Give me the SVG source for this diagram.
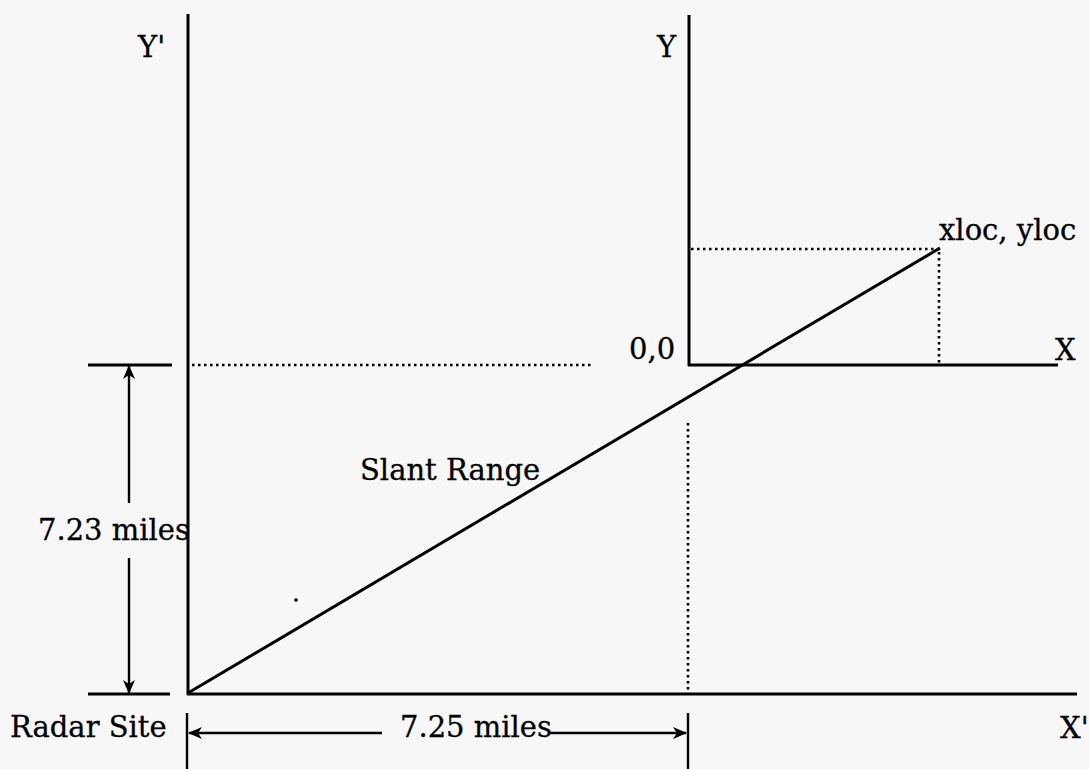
<svg xmlns="http://www.w3.org/2000/svg" width="1089" height="769" viewBox="0 0 1089 769">
  <style>
    .ax { stroke: #000; stroke-width: 3; fill: none; stroke-linecap: butt; }
    .dim { stroke: #000; stroke-width: 2.4; fill: none; }
    .dot { stroke: #000; stroke-width: 2.6; fill: none; stroke-dasharray: 2.5 3.5; }
    .lbl { font-family: "DejaVu Serif", "Liberation Serif", serif; font-size: 29px; fill: #000; stroke: #000; stroke-width: 0.3; }
  </style>
  <defs>
    <marker id="arr" viewBox="0 0 14 12" refX="13" refY="6" markerWidth="14" markerHeight="12" markerUnits="userSpaceOnUse" orient="auto-start-reverse">
      <path d="M0,0 L14,6 L0,12 L4,6 Z" fill="#000"/>
    </marker>
  </defs>
  <rect width="1089" height="769" fill="#f7f7f7"/>

  <g id="connectors">
    <!-- axes -->
    <line class="ax" x1="188" y1="14" x2="188" y2="695"/>
    <line class="ax" x1="187" y1="694" x2="1077" y2="694"/>
    <line class="ax" x1="689" y1="15" x2="689" y2="366"/>
    <line class="ax" x1="688" y1="365" x2="1058" y2="365"/>
    <!-- reference ticks -->
    <line class="ax" x1="88" y1="365" x2="172" y2="365"/>
    <line class="ax" x1="88" y1="694" x2="170" y2="694"/>
    <!-- dotted projections -->
    <line class="dot" x1="192" y1="365" x2="594" y2="365"/>
    <line class="dot" x1="691" y1="249" x2="940" y2="249"/>
    <line class="dot" x1="939" y1="252" x2="939" y2="364"/>
    <line class="dot" x1="688" y1="423" x2="688" y2="692"/>
    <!-- slant range -->
    <line class="ax" x1="188" y1="693" x2="940" y2="248" stroke-width="3.2"/>
    <!-- vertical dimension -->
    <line class="dim" x1="129" y1="503" x2="129" y2="366" marker-end="url(#arr)"/>
    <line class="dim" x1="129" y1="558" x2="129" y2="693" marker-end="url(#arr)"/>
    <!-- horizontal dimension -->
    <line class="dim" x1="187" y1="713" x2="187" y2="769"/>
    <line class="dim" x1="688" y1="713" x2="688" y2="769"/>
    <line class="dim" x1="382" y1="733" x2="189" y2="733" marker-end="url(#arr)"/>
    <line class="dim" x1="550" y1="733" x2="686" y2="733" marker-end="url(#arr)"/>
    <circle cx="296" cy="600" r="1.8" fill="#000"/>
  </g>

  <g id="label-yprime"><text class="lbl" x="138" y="57">Y'</text></g>
  <g id="label-y"><text class="lbl" x="657" y="57">Y</text></g>
  <g id="label-xloc"><text class="lbl" x="939" y="240">xloc, yloc</text></g>
  <g id="label-origin"><text class="lbl" x="629" y="359">0,0</text></g>
  <g id="label-x"><text class="lbl" x="1055" y="360">X</text></g>
  <g id="label-slant"><text class="lbl" x="360" y="480">Slant Range</text></g>
  <g id="label-723"><text class="lbl" x="38" y="540">7.23 miles</text></g>
  <g id="label-radar"><text class="lbl" x="10" y="737">Radar Site</text></g>
  <g id="label-725"><text class="lbl" x="400" y="737">7.25 miles</text></g>
  <g id="label-xprime"><text class="lbl" x="1060" y="738">X'</text></g>
</svg>
